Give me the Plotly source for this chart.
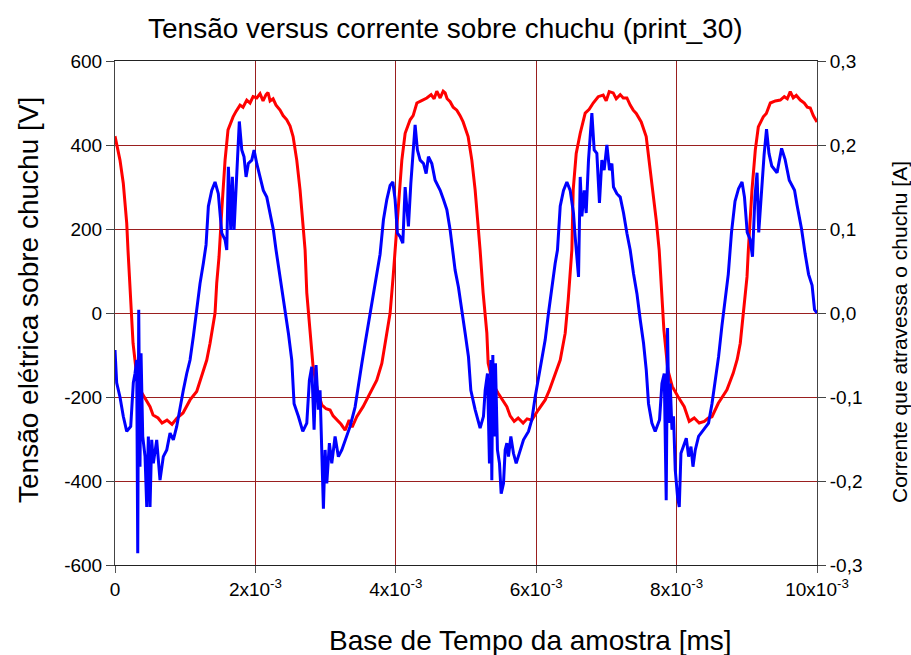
import plotly.graph_objects as go

# ---------------- data ----------------
red_t_ms = [0.000, 0.071, 0.118, 0.167, 0.185, 0.238, 0.257, 0.295, 0.356, 0.428,
            0.499, 0.542, 0.613, 0.670, 0.741, 0.812, 0.884, 0.969, 1.069, 1.164,
            1.254, 1.307, 1.354, 1.425, 1.449, 1.482, 1.521, 1.568, 1.610, 1.682,
            1.724, 1.781, 1.824, 1.877, 1.924, 1.967, 2.019, 2.066, 2.109, 2.152,
            2.180, 2.209, 2.252, 2.294, 2.351, 2.394, 2.447, 2.494, 2.537, 2.589,
            2.636, 2.679, 2.708, 2.732, 2.779, 2.822, 2.879, 2.946, 3.007, 3.064,
            3.107, 3.159, 3.221, 3.278, 3.335, 3.378, 3.444, 3.534, 3.634, 3.729,
            3.801, 3.872, 3.919, 3.962, 3.990, 4.033, 4.086, 4.133, 4.204, 4.247,
            4.300, 4.361, 4.442, 4.503, 4.546, 4.584, 4.632, 4.675, 4.703, 4.731,
            4.774, 4.817, 4.869, 4.916, 4.959, 5.030, 5.083, 5.130, 5.173, 5.201,
            5.244, 5.297, 5.316, 5.387, 5.458, 5.515, 5.582, 5.629, 5.686, 5.743,
            5.814, 5.871, 5.938, 6.028, 6.128, 6.185, 6.242, 6.285, 6.342, 6.413,
            6.456, 6.508, 6.527, 6.570, 6.627, 6.698, 6.755, 6.812, 6.883, 6.954,
            6.997, 7.040, 7.097, 7.140, 7.197, 7.240, 7.292, 7.339, 7.382, 7.425,
            7.496, 7.567, 7.610, 7.663, 7.710, 7.752, 7.781, 7.819, 7.876, 7.938,
            8.019, 8.109, 8.180, 8.251, 8.322, 8.394, 8.451, 8.504, 8.594, 8.651,
            8.717, 8.807, 8.864, 8.907, 8.950, 9.003, 9.022, 9.074, 9.121, 9.164,
            9.235, 9.278, 9.335, 9.406, 9.477, 9.534, 9.577, 9.619, 9.662, 9.705,
            9.762, 9.819, 9.862, 9.904, 9.947, 10.000]

red_voltage = [421, 364, 309, 214, 150, -9, -72, -128, -183, -203,
               -223, -243, -250, -262, -255, -265, -250, -238, -207, -187,
               -143, -112, -72, 0, 71, 134, 245, 364, 436, 467,
               480, 495, 490, 507, 500, 515, 512, 522, 505, 520,
               525, 505, 510, 495, 483, 470, 460, 445, 420, 364,
               293, 205, 150, 48, -48, -128, -180, -219, -228, -231,
               -245, -255, -265, -279, -255, -272, -247, -223, -191, -160,
               -120, -48, 0, 86, 150, 262, 364, 428, 460, 470,
               500, 505, 512, 520, 510, 528, 512, 528, 524, 510,
               503, 490, 483, 470, 455, 420, 364, 293, 214, 150,
               48, -48, -120, -170, -191, -205, -223, -245, -258, -250,
               -262, -252, -255, -231, -207, -185, -160, -140, -112, -48,
               31, 150, 293, 380, 428, 476, 485, 500, 515, 519,
               505, 527, 524, 510, 520, 512, 512, 495, 483, 475,
               455, 420, 364, 293, 221, 150, 55, -40, -136, -175,
               -199, -223, -258, -250, -262, -258, -250, -247, -215, -200,
               -183, -143, -110, -72, 0, 86, 150, 293, 388, 443,
               467, 475, 500, 505, 507, 515, 510, 527, 512, 518,
               507, 500, 490, 488, 470, 455]

blue_t_ms = [0.000, 0.024, 0.071, 0.118, 0.167, 0.224, 0.261, 0.285, 0.309, 0.324,
             0.338, 0.356, 0.371, 0.395, 0.428, 0.452, 0.475, 0.499, 0.523, 0.546,
             0.594, 0.641, 0.688, 0.737, 0.784, 0.831, 0.879, 0.926, 0.973, 1.022,
             1.069, 1.116, 1.164, 1.211, 1.258, 1.297, 1.330, 1.378, 1.425, 1.472,
             1.521, 1.568, 1.592, 1.615, 1.649, 1.672, 1.696, 1.724, 1.771, 1.806,
             1.838, 1.867, 1.900, 1.948, 1.981, 2.019, 2.066, 2.113, 2.162, 2.209,
             2.256, 2.294, 2.330, 2.376, 2.423, 2.470, 2.518, 2.551, 2.612, 2.675,
             2.732, 2.769, 2.803, 2.836, 2.864, 2.897, 2.921, 2.946, 2.969, 2.993,
             3.017, 3.054, 3.088, 3.135, 3.182, 3.231, 3.278, 3.349, 3.420, 3.467,
             3.516, 3.563, 3.634, 3.681, 3.729, 3.776, 3.824, 3.872, 3.919, 3.958,
             3.990, 4.023, 4.061, 4.100, 4.133, 4.157, 4.180, 4.214, 4.251, 4.275,
             4.308, 4.347, 4.394, 4.432, 4.465, 4.513, 4.560, 4.632, 4.679, 4.727,
             4.774, 4.813, 4.845, 4.892, 4.941, 4.988, 5.035, 5.069, 5.130, 5.201,
             5.249, 5.273, 5.306, 5.334, 5.354, 5.368, 5.382, 5.401, 5.420, 5.448,
             5.477, 5.501, 5.534, 5.558, 5.582, 5.605, 5.639, 5.676, 5.715, 5.772,
             5.819, 5.890, 5.938, 5.985, 6.032, 6.081, 6.128, 6.175, 6.223, 6.270,
             6.303, 6.342, 6.389, 6.437, 6.484, 6.531, 6.555, 6.603, 6.627, 6.651,
             6.684, 6.712, 6.745, 6.793, 6.826, 6.864, 6.901, 6.935, 6.968, 7.007,
             7.044, 7.078, 7.101, 7.149, 7.197, 7.244, 7.292, 7.339, 7.386, 7.435,
             7.482, 7.529, 7.568, 7.600, 7.648, 7.695, 7.757, 7.791, 7.824, 7.852,
             7.871, 7.891, 7.909, 7.934, 7.956, 7.981, 8.014, 8.038, 8.062, 8.100,
             8.138, 8.171, 8.205, 8.233, 8.266, 8.313, 8.384, 8.455, 8.504, 8.551,
             8.598, 8.646, 8.693, 8.736, 8.782, 8.832, 8.882, 8.932, 8.967, 9.006,
             9.046, 9.081, 9.116, 9.146, 9.170, 9.206, 9.246, 9.281, 9.316, 9.356,
             9.431, 9.496, 9.545, 9.605, 9.680, 9.715, 9.780, 9.830, 9.880, 9.930,
             9.965, 10.000]

blue_current = [-0.044, -0.083, -0.100, -0.123, -0.141, -0.135, -0.083, -0.072, -0.056, -0.286,
                0.004, -0.183, -0.048, -0.147, -0.171, -0.231, -0.147, -0.231, -0.151, -0.179,
                -0.151, -0.199, -0.171, -0.163, -0.143, -0.151, -0.135, -0.112, -0.092, -0.072,
                -0.056, -0.028, 0.004, 0.035, 0.059, 0.081, 0.127, 0.146, 0.156, 0.142,
                0.095, 0.087, 0.075, 0.174, 0.099, 0.162, 0.099, 0.154, 0.228, 0.194,
                0.186, 0.162, 0.178, 0.182, 0.194, 0.178, 0.162, 0.146, 0.138, 0.119,
                0.099, 0.075, 0.055, 0.031, 0.008, -0.024, -0.056, -0.108, -0.123, -0.141,
                -0.131, -0.080, -0.064, -0.139, -0.062, -0.115, -0.092, -0.179, -0.233, -0.163,
                -0.203, -0.155, -0.179, -0.147, -0.171, -0.163, -0.151, -0.135, -0.112, -0.084,
                -0.060, -0.036, 0.000, 0.023, 0.043, 0.070, 0.111, 0.135, 0.152, 0.156,
                0.135, 0.095, 0.091, 0.083, 0.150, 0.123, 0.103, 0.154, 0.194, 0.224,
                0.194, 0.182, 0.178, 0.166, 0.186, 0.178, 0.158, 0.146, 0.135, 0.123,
                0.099, 0.075, 0.051, 0.031, 0.000, -0.024, -0.052, -0.092, -0.115, -0.137,
                -0.123, -0.092, -0.072, -0.179, -0.056, -0.199, -0.050, -0.147, -0.060, -0.163,
                -0.179, -0.215, -0.203, -0.163, -0.155, -0.171, -0.147, -0.167, -0.179, -0.163,
                -0.151, -0.141, -0.127, -0.100, -0.076, -0.056, -0.032, 0.000, 0.031, 0.059,
                0.075, 0.127, 0.146, 0.156, 0.146, 0.119, 0.091, 0.043, 0.162, 0.115,
                0.146, 0.119, 0.182, 0.238, 0.194, 0.190, 0.131, 0.182, 0.170, 0.200,
                0.170, 0.178, 0.150, 0.142, 0.138, 0.119, 0.095, 0.075, 0.047, 0.023,
                -0.008, -0.036, -0.068, -0.108, -0.131, -0.141, -0.127, -0.084, -0.072, -0.223,
                -0.018, -0.131, -0.084, -0.139, -0.123, -0.187, -0.219, -0.231, -0.167, -0.159,
                -0.149, -0.171, -0.159, -0.183, -0.163, -0.147, -0.139, -0.131, -0.108, -0.080,
                -0.052, -0.015, 0.020, 0.046, 0.096, 0.133, 0.148, 0.156, 0.138, 0.096,
                0.088, 0.067, 0.138, 0.167, 0.096, 0.146, 0.188, 0.219, 0.190, 0.175,
                0.167, 0.196, 0.183, 0.158, 0.146, 0.129, 0.100, 0.071, 0.046, 0.033,
                0.004, 0.000]

x_tick_vals = [0, 0.002, 0.004, 0.006, 0.008, 0.010]
x_tick_text = ["0", "2x10<sup>-3</sup>", "4x10<sup>-3</sup>", "6x10<sup>-3</sup>",
               "8x10<sup>-3</sup>", "10x10<sup>-3</sup>"]
y_left_vals = [600, 400, 200, 0, -200, -400, -600]
y_left_text = ["600", "400", "200", "0", "-200", "-400", "-600"]
y_right_vals = [0.3, 0.2, 0.1, 0.0, -0.1, -0.2, -0.3]
y_right_text = ["0,3", "0,2", "0,1", "0,0", "-0,1", "-0,2", "-0,3"]

title_text = "Tensão versus corrente sobre chuchu (print_30)"
x_title = "Base de Tempo da amostra [ms]"
y_left_title = "Tensão elétrica sobre chuchu [V]"
y_right_title = "Corrente que atravessa o chuchu [A]"

# ---------------- figure ----------------
FONT = "Liberation Sans, Arial, sans-serif"
GRID = "#9a1f1f"

fig = go.Figure()
fig.add_trace(go.Scatter(x=[t * 1e-3 for t in red_t_ms], y=red_voltage, mode="lines",
                         line=dict(color="#ff0000", width=3), yaxis="y", showlegend=False))
fig.add_trace(go.Scatter(x=[t * 1e-3 for t in blue_t_ms], y=blue_current, mode="lines",
                         line=dict(color="#0000ff", width=3), yaxis="y2", showlegend=False))

W, H = 911, 655
L, R, T, B = 115, 94, 61, 90
pw, ph = W - L - R, H - T - B


def px(x):
    return (x - L) / pw


def py(y):
    return (H - B - y) / ph


fig.update_layout(
    width=W, height=H,
    margin=dict(l=L, r=R, t=T, b=B, pad=0),
    paper_bgcolor="white", plot_bgcolor="white",
    font=dict(family=FONT, color="black", size=19),
    xaxis=dict(range=[0, 0.010], tickvals=x_tick_vals, ticktext=x_tick_text,
               showgrid=True, gridcolor=GRID, gridwidth=1, zeroline=False,
               showline=True, linecolor="#222222", linewidth=1, mirror=True,
               ticks="outside", ticklen=7, tickcolor="#555555",
               tickfont=dict(size=19, family=FONT, color="black")),
    yaxis=dict(range=[-600, 600], tickvals=y_left_vals, ticktext=y_left_text,
               showgrid=True, gridcolor=GRID, gridwidth=1, zeroline=False,
               showline=True, linecolor="#444444", linewidth=1,
               ticks="outside", ticklen=8, tickcolor="#444444",
               tickfont=dict(size=19, family=FONT, color="black")),
    yaxis2=dict(range=[-0.3, 0.3], tickvals=y_right_vals, ticktext=y_right_text,
                overlaying="y", side="right", showgrid=False, zeroline=False,
                showline=True, linecolor="#444444", linewidth=1,
                ticks="outside", ticklen=8, tickcolor="#444444",
                tickfont=dict(size=19, family=FONT, color="black")),
    annotations=[
        dict(text=title_text, xref="paper", yref="paper", x=px(445.5), y=py(28),
             xanchor="center", yanchor="middle", showarrow=False,
             font=dict(size=28, family=FONT, color="black")),
        dict(text=x_title, xref="paper", yref="paper", x=px(530), y=py(640),
             xanchor="center", yanchor="middle", showarrow=False,
             font=dict(size=28, family=FONT, color="black")),
        dict(text=y_left_title, xref="paper", yref="paper", x=px(28), y=py(300),
             xanchor="center", yanchor="middle", textangle=-90, showarrow=False,
             font=dict(size=28, family=FONT, color="black")),
        dict(text=y_right_title, xref="paper", yref="paper", x=px(899), y=py(332),
             xanchor="center", yanchor="middle", textangle=-90, showarrow=False,
             font=dict(size=21, family=FONT, color="black")),
    ],
)

fig.write_html("out.html")
